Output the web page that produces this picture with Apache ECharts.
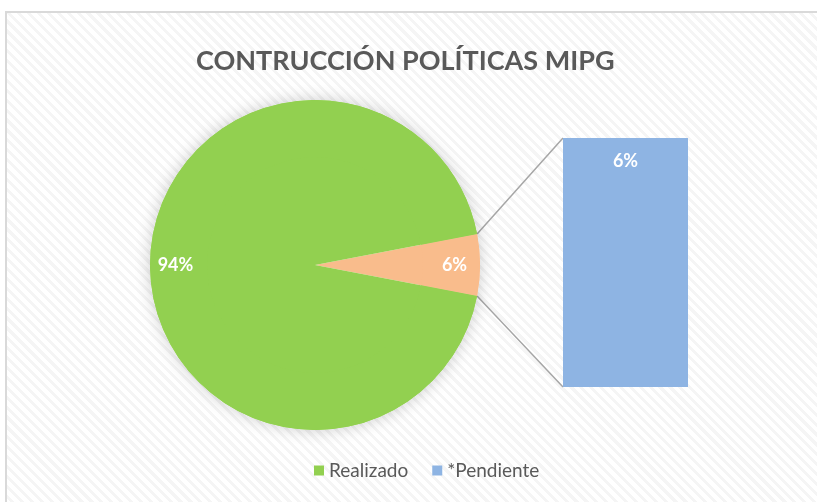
<!DOCTYPE html>
<html>
<head>
<meta charset="utf-8">
<script src="https://cdn.jsdelivr.net/npm/echarts@6/dist/echarts.min.js"></script>
<style>
  html, body { margin: 0; padding: 0; background: #fff; }
  #frame {
    position: absolute; left: 5px; top: 11px; width: 812px; height: 491px;
    border-top: 2px solid #d9d9d9; border-left: 2px solid #d9d9d9;
    background: repeating-linear-gradient(45deg, #ffffff 0px, #ffffff 4px, #f5f5f5 4px, #f5f5f5 7px);
  }
  #chart { position: absolute; left: -7px; top: -13px; width: 817px; height: 502px; }
</style>
</head>
<body>
<div id="frame"><div id="chart"></div></div>
<script>
const pieNames = ['Otro', 'Realizado'];
const pieValues = [6, 94];
const barCategories = ['*Pendiente'];
const barValues = [6];

const pieCenter = [315, 265];
const pieRadius = 165;
const halfAngle = pieValues[0] / (pieValues[0] + pieValues[1]) * 180;

const chart = echarts.init(document.getElementById('chart'));
const pieData = pieNames.map((n, i) => ({ name: n, value: pieValues[i] }));
const pieTotal = pieValues.reduce((s, v) => s + v, 0);

const valueLabel = {
  color: '#ffffff',
  fontFamily: 'Lato',
  fontWeight: 'bold',
  fontSize: 18
};

chart.setOption({
  backgroundColor: 'transparent',
  title: {
    text: 'CONTRUCCIÓN POLÍTICAS MIPG',
    left: 191,
    top: 43,
    textStyle: { fontFamily: 'Lato', fontWeight: 'bold', fontSize: 27, color: '#595959' }
  },
  legend: {
    data: ['Realizado', '*Pendiente'],
    bottom: 17,
    left: 309,
    itemWidth: 10,
    itemHeight: 10,
    itemGap: 24,
    icon: 'rect',
    textStyle: { fontFamily: 'Lato', fontSize: 19, color: '#595959' }
  },
  grid: { left: 563, top: 138, width: 125, height: 249 },
  xAxis: { type: 'category', data: barCategories, show: false },
  yAxis: { type: 'value', min: 0, max: barValues[0], show: false },
  series: [
    {
      // soft shadow under the whole pie
      type: 'pie',
      center: pieCenter,
      radius: pieRadius,
      silent: true,
      z: 1,
      label: { show: false },
      labelLine: { show: false },
      itemStyle: { color: '#ffffff', shadowBlur: 16, shadowColor: 'rgba(0,0,0,0.2)' },
      data: [{ name: '', value: pieTotal }]
    },
    {
      type: 'pie',
      center: pieCenter,
      radius: pieRadius,
      startAngle: halfAngle,
      clockwise: true,
      silent: true,
      z: 2,
      label: { show: false },
      labelLine: { show: false },
      color: ['#f9bc8c', '#92d050'],
      data: pieData
    },
    {
      type: 'pie',
      center: pieCenter,
      radius: [108, pieRadius],
      startAngle: halfAngle,
      clockwise: true,
      silent: true,
      z: 3,
      color: ['rgba(0,0,0,0)', 'rgba(0,0,0,0)'],
      label: Object.assign({ show: true, position: 'inside', formatter: p => p.value + '%' }, valueLabel),
      labelLine: { show: false },
      data: pieData
    },
    {
      name: '*Pendiente',
      type: 'bar',
      data: barValues,
      barWidth: '100%',
      itemStyle: { color: '#8eb4e3' },
      label: Object.assign({ show: true, position: 'insideTop', distance: 14, formatter: p => p.value + '%' }, valueLabel)
    }
  ]
});

// connector lines from the small slice edge to the bar corners
const a = halfAngle * Math.PI / 180;
const px = pieCenter[0] + pieRadius * Math.cos(a);
const pyTop = pieCenter[1] - pieRadius * Math.sin(a);
const pyBot = pieCenter[1] + pieRadius * Math.sin(a);
const topLeft = chart.convertToPixel({ gridIndex: 0 }, [0, barValues[0]]);
const botLeft = chart.convertToPixel({ gridIndex: 0 }, [0, 0]);
const barLeft = 563;
chart.setOption({
  graphic: [
    { type: 'line', shape: { x1: px, y1: pyTop, x2: barLeft, y2: topLeft[1] }, style: { stroke: '#a6a6a6', lineWidth: 1.5 }, z: 1 },
    { type: 'line', shape: { x1: px, y1: pyBot, x2: barLeft, y2: botLeft[1] }, style: { stroke: '#a6a6a6', lineWidth: 1.5 }, z: 1 }
  ]
});
</script>
</body>
</html>
